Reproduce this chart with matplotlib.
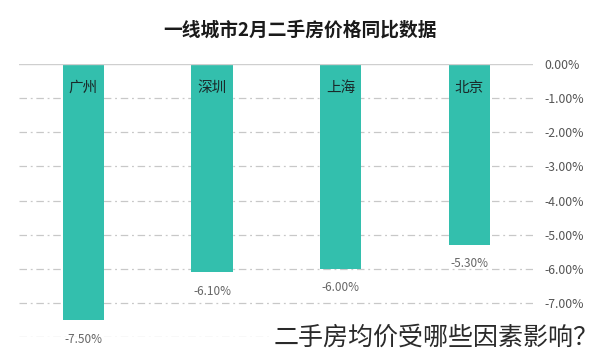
import matplotlib
matplotlib.use("Agg")
import matplotlib.pyplot as plt
import numpy as np

plt.rcParams['font.family'] = ['Noto Sans CJK SC', 'DejaVu Sans']

cities = ['广州', '深圳', '上海', '北京']
values = [-7.5, -6.1, -6.0, -5.3]
value_labels = ['-7.50%', '-6.10%', '-6.00%', '-5.30%']
ytick_vals = [0, -1, -2, -3, -4, -5, -6, -7]
ytick_labels = ['0.00%', '-1.00%', '-2.00%', '-3.00%', '-4.00%', '-5.00%', '-6.00%', '-7.00%']
title = '一线城市2月二手房价格同比数据'
overlay = '二手房均价受哪些因素影响？'

bar_color = '#33bfad'

fig = plt.figure(figsize=(6.0, 3.59), dpi=100)
ax = fig.add_axes([0.032, 0.061, 0.857, 0.761])

x = np.arange(len(cities))
ax.bar(x, values, width=0.32, color=bar_color, zorder=3)

ax.set_xlim(-0.5, 3.5)
ax.set_ylim(-8, 0)

for g in [-1, -2, -3, -4, -5, -6, -7, -8]:
    ax.axhline(g, color='#c8c8c8', lw=0.9, linestyle=(0, (6, 3, 1.5, 3)), zorder=1)
ax.axhline(0, color='#cfcfcf', lw=1.0, zorder=4)

for xi, c, v, vl in zip(x, cities, values, value_labels):
    ax.text(xi, -0.7, c, ha='center', va='center', fontsize=10.5, color='#1a2a2a', zorder=5)
    ax.annotate(vl, (xi, v), xytext=(0, -19), textcoords='offset pixels',
                ha='center', va='center', fontsize=8.5, color='#666666')

ax.yaxis.tick_right()
ax.set_yticks(ytick_vals)
ax.set_yticklabels(ytick_labels, fontsize=8.8, color='#555555')
ax.tick_params(axis='y', length=0, pad=8)
ax.set_xticks([])
for s in ax.spines.values():
    s.set_visible(False)

fig.text(0.5, 0.915, title, ha='center', va='center', fontsize=13.5,
         fontweight='bold', color='#1a1a1a')

fig.text(0.998, 0.058, overlay, ha='right', va='center', fontsize=18,
         color='#2a2a2a', fontweight='light',
         bbox=dict(facecolor='white', edgecolor='none', pad=1.5))

fig.savefig('out.png', dpi=100, facecolor='white')
